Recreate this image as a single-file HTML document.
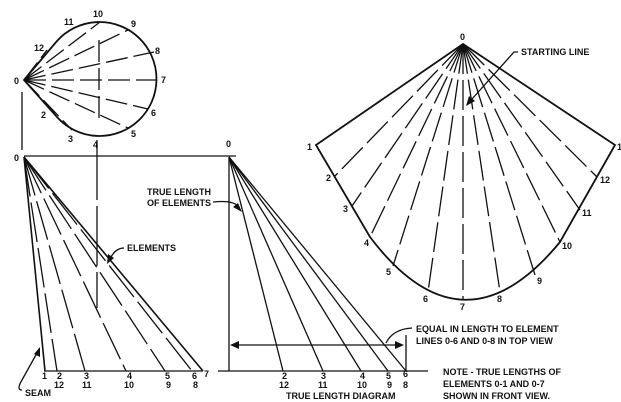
<!DOCTYPE html>
<html><head><meta charset="utf-8"><style>
html,body{margin:0;padding:0;background:#fff}
svg{display:block}
text{font-family:"Liberation Sans",sans-serif;font-weight:bold;font-size:9px;fill:#111}
</style></head><body>
<svg width="621" height="402" viewBox="0 0 621 402" xmlns="http://www.w3.org/2000/svg">
<g stroke="#111" fill="none" stroke-width="1.3">
<!-- TOP VIEW -->
<path d="M24,80 L57,41 A57,57 0 1 1 57,117 Z" stroke-width="1.8"/>
<g stroke-dasharray="22,6">
<line x1="24" y1="80" x2="100" y2="22"/><line x1="24" y1="80" x2="128" y2="30"/>
<line x1="24" y1="80" x2="154" y2="52"/><line x1="24" y1="80" x2="157" y2="80"/>
<line x1="24" y1="80" x2="148" y2="109"/><line x1="24" y1="80" x2="128" y2="128"/>
<line x1="24" y1="80" x2="72" y2="130"/><line x1="24" y1="80" x2="47" y2="50"/>
<line x1="24" y1="80" x2="55" y2="113"/>
<line x1="99" y1="40" x2="99" y2="118"/>
</g>
<line x1="22" y1="92" x2="22" y2="150"/>
<line x1="97" y1="140" x2="97" y2="308" stroke-dasharray="60,6"/>
<!-- FRONT VIEW -->
<line x1="24" y1="156" x2="236" y2="156"/>
<line x1="44" y1="371" x2="203" y2="371"/>
<line x1="24" y1="157" x2="45" y2="371" stroke-width="1.6"/>
<line x1="24" y1="157" x2="203" y2="371" stroke-width="1.6"/>
<g stroke-dasharray="40,6">
<line x1="24" y1="157" x2="57" y2="371"/><line x1="24" y1="157" x2="85" y2="371"/>
<line x1="24" y1="157" x2="126" y2="371"/><line x1="24" y1="157" x2="165" y2="371"/>
<line x1="24" y1="157" x2="192" y2="371"/>
</g>
<!-- TRUE LENGTH -->
<line x1="229" y1="157" x2="229" y2="371"/>
<line x1="218" y1="371" x2="428" y2="371"/>
<line x1="229" y1="157" x2="283" y2="371"/><line x1="229" y1="157" x2="323" y2="371"/>
<line x1="229" y1="157" x2="361" y2="371"/><line x1="229" y1="157" x2="388" y2="371"/>
<line x1="229" y1="157" x2="406" y2="371"/>
<line x1="406" y1="335" x2="406" y2="371"/>
<line x1="236" y1="345" x2="398" y2="345"/>
<path d="M386,343 Q393,329 412,328"/>
<path d="M213,202 Q232,200 238,206"/>
<path d="M124,248 Q116,248 111,257"/>
<path d="M22,390 Q16,390 22,380 L37,353"/>
<!-- PATTERN -->
<path d="M463,44 L316,145 L370,237 Q463,360 560,242 L615,145 Z" stroke-width="1.8"/>
<g stroke-dasharray="30,6">
<line x1="463" y1="44" x2="335" y2="176"/><line x1="463" y1="44" x2="352" y2="206"/>
<line x1="463" y1="44" x2="370" y2="237"/><line x1="463" y1="44" x2="393" y2="266"/>
<line x1="463" y1="44" x2="428" y2="292"/><line x1="463" y1="44" x2="463" y2="300"/>
<line x1="463" y1="44" x2="500" y2="292"/><line x1="463" y1="44" x2="535" y2="275"/>
<line x1="463" y1="44" x2="560" y2="242"/><line x1="463" y1="44" x2="580" y2="210"/>
<line x1="463" y1="44" x2="597" y2="177"/>
</g>
<path d="M518,52 L514,52 L472,99"/>
</g>
<g fill="#111">
<polygon points="230,345 239,341 239,349"/>
<polygon points="404,345 395,341 395,349"/>
<polygon points="242,212 233,207 238,203"/>
<polygon points="107,264 108,254 114,258"/>
<polygon points="40,347 40,357 34,354"/>
<polygon points="466,106 469,96 475,101"/>
</g>
<!-- top view labels -->
<text x="14" y="84">0</text><text x="34" y="51">12</text><text x="64" y="25">11</text>
<text x="93" y="17">10</text><text x="131" y="27">9</text><text x="155" y="54">8</text>
<text x="161" y="83">7</text><text x="151" y="116">6</text><text x="131" y="137">5</text>
<text x="93" y="148">4</text><text x="68" y="142">3</text><text x="41" y="118">2</text>
<!-- front view labels -->
<text x="14" y="161">0</text>
<text x="42" y="379">1</text><text x="57" y="379">2</text><text x="54" y="388">12</text>
<text x="84" y="379">3</text><text x="82" y="388">11</text>
<text x="127" y="379">4</text><text x="124" y="388">10</text>
<text x="165" y="379">5</text><text x="166" y="388">9</text>
<text x="192" y="379">6</text><text x="193" y="388">8</text><text x="204" y="377">7</text>
<text x="25" y="396">SEAM</text>
<text x="127" y="251">ELEMENTS</text>
<text x="147" y="195">TRUE LENGTH</text><text x="147" y="206">OF ELEMENTS</text>
<!-- true length labels -->
<text x="226" y="147">0</text>
<text x="282" y="379">2</text><text x="279" y="388">12</text>
<text x="321" y="379">3</text><text x="318" y="388">11</text>
<text x="360" y="379">4</text><text x="357" y="388">10</text>
<text x="386" y="379">5</text><text x="387" y="388">9</text>
<text x="403" y="377">6</text><text x="403" y="388">8</text>
<text x="286" y="399">TRUE LENGTH DIAGRAM</text>
<text x="416" y="332">EQUAL IN LENGTH TO ELEMENT</text>
<text x="416" y="344">LINES 0-6 AND 0-8 IN TOP VIEW</text>
<text x="443" y="375">NOTE - TRUE LENGTHS OF</text>
<text x="443" y="387">ELEMENTS 0-1 AND 0-7</text>
<text x="443" y="399">SHOWN IN FRONT VIEW.</text>
<!-- pattern labels -->
<text x="460" y="40">0</text><text x="521" y="55">STARTING LINE</text>
<text x="307" y="150">1</text><text x="617" y="150">1</text>
<text x="326" y="181">2</text><text x="343" y="212">3</text><text x="364" y="246">4</text>
<text x="386" y="275">5</text><text x="423" y="302">6</text><text x="460" y="310">7</text>
<text x="497" y="302">8</text><text x="537" y="284">9</text><text x="562" y="249">10</text>
<text x="582" y="216">11</text><text x="600" y="183">12</text>
</svg>
</body></html>
